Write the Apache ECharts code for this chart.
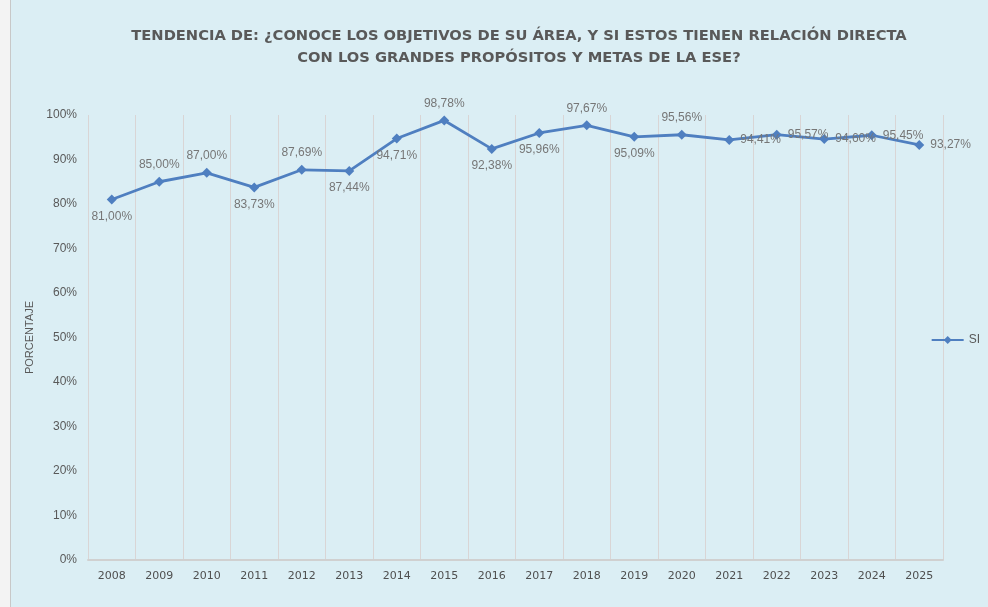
<!DOCTYPE html>
<html>
<head>
<meta charset="utf-8">
<script src="https://cdn.jsdelivr.net/npm/echarts@6/dist/echarts.min.js"></script>
<style>
  html, body { margin: 0; padding: 0; background: #ffffff; }
  #strip { position: absolute; left: 0; top: 0; width: 10px; height: 607px; background: #f3f3f3; border-right: 1px solid #c8c8c8; }
  #main { position: absolute; left: 11px; top: 0; width: 977px; height: 607px; }
</style>
</head>
<body>
<div id="strip"></div>
<div id="main"></div>
<script>
const years = ['2008', '2009', '2010', '2011', '2012', '2013', '2014', '2015', '2016',
  '2017', '2018', '2019', '2020', '2021', '2022', '2023', '2024', '2025'];
const siValues = [81.00, 85.00, 87.00, 83.73, 87.69, 87.44, 94.71, 98.78, 92.38,
  95.96, 97.67, 95.09, 95.56, 94.41, 95.57, 94.60, 95.45, 93.27];
const yTicks = [0, 10, 20, 30, 40, 50, 60, 70, 80, 90, 100];

// where each data label sits relative to its point
const labelSide = ['bottom', 'top', 'top', 'bottom', 'top', 'bottom', 'bottom', 'top', 'bottom',
  'bottom', 'top', 'bottom', 'top', 'right', 'right', 'right', 'right', 'right'];

const myChart = echarts.init(document.getElementById('main'));

const option = {
  backgroundColor: '#dbeef4',
  title: {
    text: 'TENDENCIA DE: ¿CONOCE LOS OBJETIVOS DE SU ÁREA, Y SI ESTOS TIENEN RELACIÓN DIRECTA\nCON LOS GRANDES PROPÓSITOS Y METAS DE LA ESE?',
    left: 503,
    top: 20,
    textAlign: 'center',
    textStyle: {
      fontFamily: 'DejaVu Sans',
      fontSize: 14.7,
      fontWeight: 'bold',
      color: '#595959',
      lineHeight: 22
    }
  },
  legend: {
    data: ['SI'],
    right: 3,
    top: 329,
    itemWidth: 32,
    itemHeight: 10,
    itemGap: 4,
    textStyle: { color: '#595959', fontSize: 12, fontFamily: 'Liberation Sans' }
  },
  grid: {
    left: 77,
    right: 45,
    top: 115,
    bottom: 47
  },
  xAxis: {
    type: 'category',
    data: years,
    boundaryGap: true,
    axisLine: { lineStyle: { color: '#d0d0d0', width: 2 } },
    axisTick: { show: false },
    axisLabel: {
      color: '#4f4f4f',
      fontFamily: 'DejaVu Sans',
      fontSize: 11,
      margin: 11
    },
    splitLine: {
      show: true,
      lineStyle: { color: '#d9d5d5', width: 1 }
    }
  },
  yAxis: {
    type: 'value',
    min: 0,
    max: 100,
    interval: 10,
    name: 'PORCENTAJE',
    nameLocation: 'middle',
    nameGap: 46,
    nameTextStyle: { color: '#595959', fontSize: 11, fontFamily: 'Liberation Sans' },
    axisLine: { show: false },
    axisTick: { show: false },
    splitLine: { show: false },
    axisLabel: {
      color: '#595959',
      fontSize: 12,
      fontFamily: 'Liberation Sans',
      margin: 11,
      formatter: v => yTicks.includes(v) ? v + '%' : ''
    }
  },
  series: [{
    name: 'SI',
    type: 'line',
    data: siValues.map((v, i) => ({
      value: v,
      label: { position: labelSide[i] }
    })),
    symbol: 'diamond',
    symbolSize: 10,
    lineStyle: { color: '#4f7fc0', width: 2.8 },
    itemStyle: { color: '#4f7fc0' },
    label: {
      show: true,
      distance: 6,
      color: '#767676',
      fontSize: 12,
      fontFamily: 'Liberation Sans',
      formatter: p => p.value.toFixed(2).replace('.', ',') + '%'
    }
  }]
};

myChart.setOption(option);
</script>
</body>
</html>
